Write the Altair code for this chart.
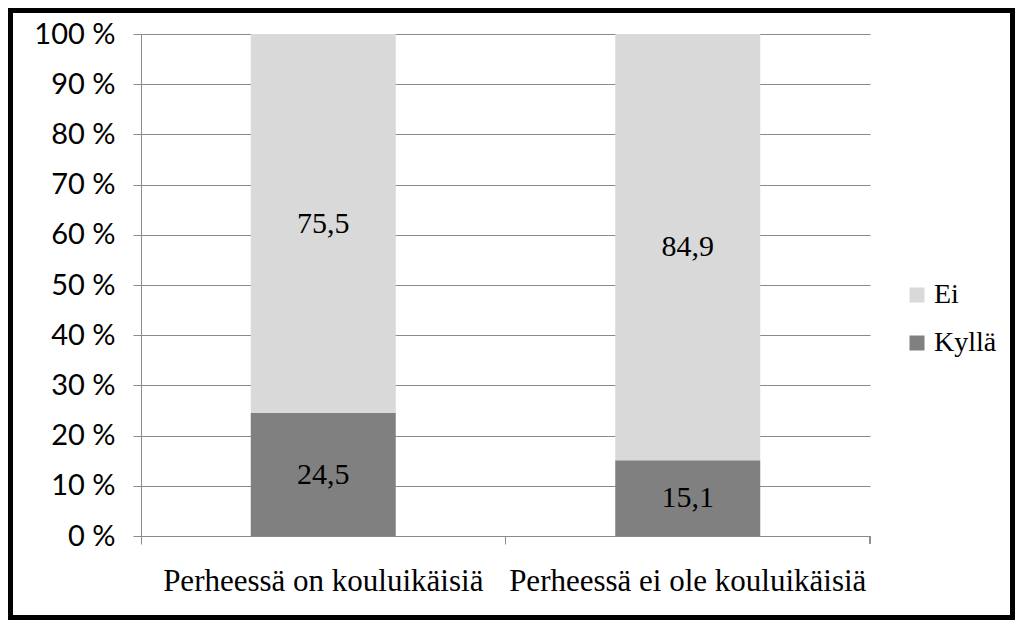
import altair as alt
import pandas as pd

categories = ["Perheessä on kouluikäisiä", "Perheessä ei ole kouluikäisiä"]
series = ["Ei", "Kyllä"]
kylla = [24.5, 15.1]
ei = [75.5, 84.9]

rows = []
for i, c in enumerate(categories):
    rows.append({"category": c, "series": "Kyllä", "value": kylla[i], "rank": 0,
                 "label": f"{kylla[i]:.1f}".replace(".", ",")})
    rows.append({"category": c, "series": "Ei", "value": ei[i], "rank": 1,
                 "label": f"{ei[i]:.1f}".replace(".", ",")})
df = pd.DataFrame(rows)

W, H = 729, 502
PL, PT, PR, PB = 133, 26, 145, 84
grid = "#8a8a8a"
serif = "Liberation Serif"

step = W / 2
bw = step * 0.4
bp = -(0.3 * step) / bw

xenc = alt.X("category:N", sort=categories,
             scale=alt.Scale(paddingInner=0.6, paddingOuter=0.3),
             axis=alt.Axis(title=None, labelAngle=0, bandPosition=bp,
                           tickSize=8, tickColor=grid, domainColor=grid,
                           labelFont=serif, labelFontSize=31, labelColor="black",
                           labelPadding=22, labelBaseline="top", labelLimit=0))

base = alt.Chart(df)

bars = base.mark_bar(size=145).encode(
    x=xenc,
    y=alt.Y("value:Q", stack="zero",
            scale=alt.Scale(domain=[0, 100], nice=False),
            axis=alt.Axis(title=None, values=list(range(0, 101, 10)),
                          labelExpr="datum.value + ' %'",
                          tickSize=8, tickColor=grid, domainColor=grid,
                          gridColor=grid, grid=True,
                          labelFont="Lato", labelFontSize=29, labelColor="black",
                          labelPadding=18)),
    color=alt.Color("series:N", scale=alt.Scale(domain=series, range=["#d9d9d9", "#808080"]),
                    legend=alt.Legend(title=None, orient="none", legendX=762, legendY=247,
                                      symbolType="square", symbolSize=225,
                                      symbolStrokeWidth=0, labelFont=serif,
                                      labelFontSize=28, labelColor="black",
                                      rowPadding=20, labelOffset=3)),
    order=alt.Order("rank:Q"),
)

texts = base.transform_window(
    cum="sum(value)", groupby=["category"], sort=[alt.SortField("rank")]
).transform_calculate(
    mid="datum.cum - datum.value / 2"
).mark_text(font=serif, fontSize=30, color="black").encode(
    x=alt.X("category:N", sort=categories),
    y=alt.Y("mid:Q"),
    text="label:N",
)

end_tick = alt.Chart(df).mark_rule(color=grid).encode(
    x=alt.value(W), y=alt.value(H), y2=alt.value(H + 8))

frame = alt.Chart(df).mark_rect(fillOpacity=0, stroke="black", strokeWidth=5).encode(
    x=alt.value(-PL + 2.5), x2=alt.value(W + PR - 2.5),
    y=alt.value(-PT + 2.5), y2=alt.value(H + PB - 2.5))

chart = alt.layer(bars, texts, end_tick, frame).properties(
    width=W, height=H,
    autosize=alt.AutoSizeParams(type="none"),
    padding={"left": PL, "top": PT, "right": PR, "bottom": PB},
    background="white",
).configure_view(stroke=None)

chart.save("out.html", embed_options={"renderer": "svg", "actions": False})
